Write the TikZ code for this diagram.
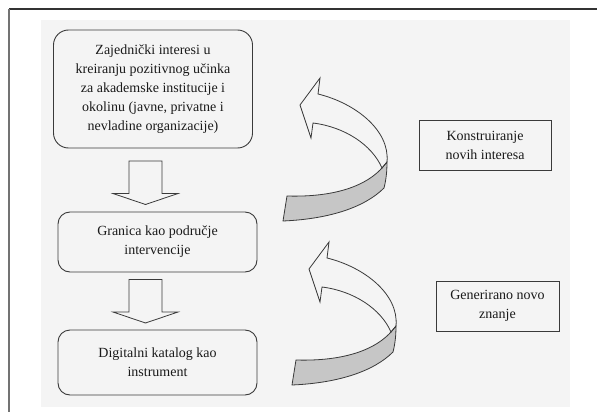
\documentclass[tikz,border=0pt]{standalone}
\usepackage{fontspec}
\setmainfont{Liberation Serif}
\definecolor{bgcol}{HTML}{F4F4F4}
\definecolor{linecol}{HTML}{3A3A3A}
\definecolor{txtcol}{HTML}{1A1A1A}
\definecolor{bandcol}{HTML}{C6C6C6}
\begin{document}
\begin{tikzpicture}[x=1pt,y=-1pt,
  txt/.style={text=txtcol, font=\fontsize{14}{19}\selectfont, align=center, inner sep=0pt},
  rbox/.style={txt, draw=linecol, line width=0.9pt, minimum width=199pt},
  sbox/.style={txt, draw=linecol, line width=0.9pt},
  arrowline/.style={draw=linecol, line width=0.8pt, line join=miter},
  downarrow/.pic={
    \draw[arrowline] (-16.5,0) -- (16.5,0) -- (16.5,32.5) -- (32.5,32.5) -- (0,43.5)
      -- (-32.5,32.5) -- (-16.5,32.5) -- cycle;
  },
  ribbon/.pic={
    % grey back side of the ribbon
    \filldraw[arrowline, fill=bandcol] (387,162) .. controls (387,172) and (386,180) .. (384,188)
      .. controls (365,207) and (330,219) .. (283,221)
      -- (287,196)
      .. controls (320,197) and (360,192) .. (382,168) -- cycle;
    % white front side with arrow head
    \draw[arrowline] (318,94) .. controls (355,103) and (390,130) .. (387,162)
      -- (382,168)
      .. controls (372,145) and (345,127) .. (313,123)
      -- (311,138) -- (300,105) -- (320,78) -- cycle;
  }
]
\useasboundingbox (0,0) rectangle (597,412);
% background panel and frame
\fill[bgcol] (41,20) rectangle (570,407);
\draw[black!80, line width=1.2pt] (9,9) -- (597,9);
\draw[black!55, line width=1.2pt] (9,9) -- (9,412);

% left column boxes
\node[rbox, minimum height=118pt, rounded corners=15pt] (common) at (153,89)
  {Zajednički interesi u\\kreiranju pozitivnog učinka\\za akademske institucije i\\okolinu (javne, privatne i\\nevladine organizacije)};
\node[rbox, minimum height=60pt, rounded corners=12pt] (granica) at (157.5,242)
  {Granica kao područje\\intervencije};
\node[rbox, minimum height=65pt, rounded corners=12pt] (katalog) at (157.5,362.5)
  {Digitalni katalog kao\\instrument};

% block arrows between boxes
\pic at (145.5,161) {downarrow};
\pic at (145.5,279.5) {downarrow};

% right column boxes
\node[sbox, minimum width=132pt, minimum height=50pt] (konstr) at (485,145)
  {Konstruiranje\\novih interesa};
\node[sbox, minimum width=123pt, minimum height=50pt] (gener) at (497.5,306)
  {Generirano novo\\znanje};

% curved ribbon arrows
\pic at (0,0) {ribbon};
\pic at (9,164) {ribbon};
\end{tikzpicture}
\end{document}
